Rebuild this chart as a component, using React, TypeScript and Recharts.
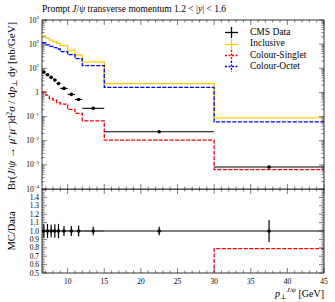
import React from 'react';
import { ComposedChart, Line, Scatter, ErrorBar, XAxis, YAxis, ReferenceArea } from 'recharts';

// bins in pT (GeV)
const binLow = [6.5, 7, 7.5, 8, 8.5, 9, 10, 11, 12, 15, 30];
const binHigh = [7, 7.5, 8, 8.5, 9, 10, 11, 12, 15, 30, 45];

// nb/GeV
const cmsData = [6.95, 5.37, 4.19, 3.24, 2.36, 1.47, 0.83, 0.51, 0.22, 0.0235, 0.00081];
const cmsRelErr = [0.08, 0.085, 0.075, 0.08, 0.085, 0.06, 0.06, 0.065, 0.05, 0.05, 0.13];
const inclusive = [217, 179, 148, 126, 108, 86, 57, 35, 18.6, 2.3, 0.088];
const colourSinglet = [1.06, 0.77, 0.56, 0.48, 0.38, 0.33, 0.2, 0.135, 0.066, 0.0105, 0.00064];
const colourOctet = [114, 94, 81, 72, 63, 49, 37, 25, 13, 1.61, 0.06];

const logMajorTicks = [1e-4, 1e-3, 1e-2, 1e-1, 1, 10, 100, 1000];
const xMajorTicks = [10, 15, 20, 25, 30, 35, 40, 45];
const ratioMajorTicks = ['0.5', '0.6', '0.7', '0.8', '0.9', '1.0', '1.1', '1.2', '1.3', '1.4'];

const X_MIN = 6.5;
const X_MAX = 45;
const PLOT_W = 282;
const MAIN_H = 169;
const RATIO_H = 84;
const FONT = '"Liberation Serif", "DejaVu Serif", serif';
const TICK = '#222';

const INC_COLOR = '#ffcc00';
const CS_COLOR = '#ff0000';
const CO_COLOR = '#0000ff';

// tick value lists (majors + minors)
const logTicks: number[] = [];
for (let e = -4; e <= 3; e++) {
  for (let m = 1; m <= 9; m++) {
    const v = m * Math.pow(10, e);
    if (v <= 1000.0001) logTicks.push(v);
  }
}
const xTicks: number[] = [];
for (let v = 7; v <= 45; v++) xTicks.push(v);
const ratioTicks: number[] = [];
for (let k = 25; k <= 75; k++) ratioTicks.push(k / 50);

const n = binLow.length;
const histRows = binLow
  .map((lo, i) => ({ x: lo, inc: inclusive[i], cs: colourSinglet[i], co: colourOctet[i] }))
  .concat([{ x: X_MAX, inc: inclusive[n - 1], cs: colourSinglet[n - 1], co: colourOctet[n - 1] }]);

const dataRows = binLow.map((lo, i) => ({
  x: (lo + binHigh[i]) / 2,
  y: cmsData[i],
  xErr: (binHigh[i] - lo) / 2,
  yErr: cmsData[i] * cmsRelErr[i],
}));

const ratioRows = binLow
  .map((lo, i) => ({
    x: lo,
    inc: inclusive[i] / cmsData[i],
    cs: colourSinglet[i] / cmsData[i],
    co: colourOctet[i] / cmsData[i],
  }))
  .concat([
    {
      x: X_MAX,
      inc: inclusive[n - 1] / cmsData[n - 1],
      cs: colourSinglet[n - 1] / cmsData[n - 1],
      co: colourOctet[n - 1] / cmsData[n - 1],
    },
  ]);

const ratioDataRows = binLow.map((lo, i) => ({
  x: (lo + binHigh[i]) / 2,
  y: 1,
  xErr: (binHigh[i] - lo) / 2,
  yErr: cmsRelErr[i],
}));

const expLabel = (v: number) => {
  const e = Math.round(Math.log10(v));
  if (e === 0) return '1';
  return (
    <>
      10
      <tspan dy={-3.5} fontSize={5}>
        {e < 0 ? '\u2212' + -e : e}
      </tspan>
    </>
  );
};

const MainYTick = (props: any) => {
  const { x, y, payload } = props;
  const v = payload.value;
  const major = logMajorTicks.some((m) => Math.abs(m - v) / m < 1e-6);
  const len = major ? 5 : 2.5;
  return (
    <g>
      <line x1={x} x2={x + len} y1={y} y2={y} stroke={TICK} strokeWidth={0.6} />
      <line x1={x + PLOT_W} x2={x + PLOT_W - len} y1={y} y2={y} stroke={TICK} strokeWidth={0.6} />
      {major && (
        <text x={x - 3} y={y + 2.5} textAnchor="end" fontSize={7.5} fontFamily={FONT} fill="#000">
          {expLabel(v)}
        </text>
      )}
    </g>
  );
};

const makeXTick = (plotH: number, labels: boolean) => (props: any) => {
  const { x, y, payload } = props;
  const v = payload.value;
  const major = xMajorTicks.includes(v);
  const len = major ? 5 : 2.5;
  return (
    <g>
      <line x1={x} x2={x} y1={y} y2={y - len} stroke={TICK} strokeWidth={0.6} />
      <line x1={x} x2={x} y1={y - plotH} y2={y - plotH + len} stroke={TICK} strokeWidth={0.6} />
      {labels && major && (
        <text x={x} y={y + 11} textAnchor="middle" fontSize={7.5} fontFamily={FONT} fill="#000">
          {v}
        </text>
      )}
    </g>
  );
};

const MainXTick = makeXTick(MAIN_H, false);
const RatioXTick = makeXTick(RATIO_H, true);

const RatioYTick = (props: any) => {
  const { x, y, payload } = props;
  const v = payload.value;
  const label = v.toFixed(1);
  const major = Math.abs(v * 10 - Math.round(v * 10)) < 1e-6;
  const len = major ? 5 : 2.5;
  return (
    <g>
      <line x1={x} x2={x + len} y1={y} y2={y} stroke={TICK} strokeWidth={0.6} />
      <line x1={x + PLOT_W} x2={x + PLOT_W - len} y1={y} y2={y} stroke={TICK} strokeWidth={0.6} />
      {major && ratioMajorTicks.includes(label) && (
        <text x={x - 3} y={y + 2.5} textAnchor="end" fontSize={7.5} fontFamily={FONT} fill="#000">
          {label}
        </text>
      )}
    </g>
  );
};

const DataDot = (props: any) => {
  const { cx, cy } = props;
  return <circle cx={cx} cy={cy} r={1.8} fill="#000" />;
};

const legendItems = [
  { name: 'CMS Data', color: '#000', dash: undefined as string | undefined },
  { name: 'Inclusive', color: INC_COLOR, dash: undefined },
  { name: 'Colour-Singlet', color: CS_COLOR, dash: '2 1.5' },
  { name: 'Colour-Octet', color: CO_COLOR, dash: '2 1.5' },
];

const App = () => {
  return (
    <div style={{ position: 'absolute', left: 0, top: 0, width: 335, height: 302, background: '#fff' }}>
      <div style={{ position: 'absolute', left: 0, top: 189 }}>
        <ComposedChart width={335} height={113} data={ratioRows} margin={{ top: 0, right: 11, bottom: 28, left: 41 }}>
          <XAxis
            dataKey="x"
            type="number"
            domain={[X_MIN, X_MAX]}
            allowDataOverflow
            ticks={xTicks}
            interval={0}
            tick={RatioXTick}
            tickLine={false}
            axisLine={false}
            tickSize={0}
            tickMargin={0}
            height={1}
          />
          <YAxis
            type="number"
            domain={[0.5, 1.5]}
            allowDataOverflow
            ticks={ratioTicks}
            interval={0}
            tick={RatioYTick}
            tickLine={false}
            axisLine={false}
            tickSize={0}
            tickMargin={0}
            width={1}
          />
          <Line type="stepAfter" dataKey="inc" stroke={INC_COLOR} strokeWidth={1.3} dot={false} isAnimationActive={false} />
          <Line
            type="stepAfter"
            dataKey="co"
            stroke={CO_COLOR}
            strokeWidth={1.3}
            strokeDasharray="4 1.5"
            dot={false}
            isAnimationActive={false}
          />
          <Line
            type="stepAfter"
            dataKey="cs"
            stroke={CS_COLOR}
            strokeWidth={1.3}
            strokeDasharray="4 1.5"
            dot={false}
            isAnimationActive={false}
          />
          <Scatter data={ratioDataRows} dataKey="y" shape={DataDot} isAnimationActive={false}>
            <ErrorBar dataKey="xErr" direction="x" width={0} stroke="#000" strokeWidth={1.2} />
            <ErrorBar dataKey="yErr" direction="y" width={0} stroke="#000" strokeWidth={1.2} />
          </Scatter>
          <ReferenceArea x1={X_MIN} x2={X_MAX} y1={0.5} y2={1.5} fill="none" stroke="#000" strokeWidth={0.8} />
        </ComposedChart>
      </div>
      <div style={{ position: 'absolute', left: 0, top: 0 }}>
        <ComposedChart width={335} height={196} data={histRows} margin={{ top: 20, right: 11, bottom: 6, left: 41 }}>
          <XAxis
            dataKey="x"
            type="number"
            domain={[X_MIN, X_MAX]}
            allowDataOverflow
            ticks={xTicks}
            interval={0}
            tick={MainXTick}
            tickLine={false}
            axisLine={false}
            tickSize={0}
            tickMargin={0}
            height={1}
          />
          <YAxis
            type="number"
            scale="log"
            domain={[1e-4, 1e3]}
            allowDataOverflow
            ticks={logTicks}
            interval={0}
            tick={MainYTick}
            tickLine={false}
            axisLine={false}
            tickSize={0}
            tickMargin={0}
            width={1}
          />
          <Line type="stepAfter" dataKey="inc" stroke={INC_COLOR} strokeWidth={1.3} dot={false} isAnimationActive={false} />
          <Line
            type="stepAfter"
            dataKey="co"
            stroke={CO_COLOR}
            strokeWidth={1.3}
            strokeDasharray="4 1.5"
            dot={false}
            isAnimationActive={false}
          />
          <Line
            type="stepAfter"
            dataKey="cs"
            stroke={CS_COLOR}
            strokeWidth={1.3}
            strokeDasharray="4 1.5"
            dot={false}
            isAnimationActive={false}
          />
          <Scatter data={dataRows} dataKey="y" shape={DataDot} isAnimationActive={false}>
            <ErrorBar dataKey="xErr" direction="x" width={0} stroke="#000" strokeWidth={1.1} />
            <ErrorBar dataKey="yErr" direction="y" width={0} stroke="#000" strokeWidth={1.1} />
          </Scatter>
          <ReferenceArea x1={X_MIN} x2={X_MAX} y1={1e-4} y2={1e3} fill="none" stroke="#000" strokeWidth={0.8} />
        </ComposedChart>
      </div>

      {/* titles and axis labels */}
      <svg width={335} height={302} style={{ position: 'absolute', left: 0, top: 0, pointerEvents: 'none' }}>
        <text x={42} y={12} fontSize={9.5} fontFamily={FONT} fill="#000">
          Prompt <tspan fontStyle="italic">J</tspan>/<tspan fontStyle="italic">ψ</tspan> transverse momentum 1.2 &lt; |
          <tspan fontStyle="italic">y</tspan>| &lt; 1.6
        </text>
        <text
          transform="translate(15,106) rotate(-90)"
          textAnchor="middle"
          fontSize={11}
          fontFamily={FONT}
          fill="#000"
        >
          Br(<tspan fontStyle="italic">J</tspan>/<tspan fontStyle="italic">ψ</tspan> → <tspan fontStyle="italic">μ</tspan>
          <tspan dy={-3.5} fontSize={7.5}>+</tspan>
          <tspan dy={3.5} fontStyle="italic">μ</tspan>
          <tspan dy={-3.5} fontSize={7.5}>−</tspan>
          <tspan dy={3.5}>)d</tspan>
          <tspan dy={-3.5} fontSize={7.5}>2</tspan>
          <tspan dy={3.5} fontStyle="italic">σ</tspan> / d<tspan fontStyle="italic">p</tspan>
          <tspan dy={2} fontSize={7.5}>⊥</tspan>
          <tspan dy={-2}> d</tspan>
          <tspan fontStyle="italic">y</tspan> [nb/GeV]
        </text>
        <text transform="translate(15,231) rotate(-90)" textAnchor="middle" fontSize={10.5} fontFamily={FONT} fill="#000">
          MC/Data
        </text>
        <text x={324} y={297} textAnchor="end" fontSize={10} fontFamily={FONT} fill="#000">
          <tspan fontStyle="italic">p</tspan>
          <tspan dy={2} fontSize={7}>⊥</tspan>
          <tspan dy={-7} fontSize={7} fontStyle="italic">J</tspan>
          <tspan fontSize={7}>/</tspan>
          <tspan fontSize={7} fontStyle="italic">ψ</tspan>
          <tspan dy={5}> [GeV]</tspan>
        </text>
      </svg>

      {/* legend */}
      <div style={{ position: 'absolute', left: 224, top: 27, fontFamily: FONT, fontSize: 9.5, lineHeight: '11.4px' }}>
        {legendItems.map((item) => (
          <div key={item.name} style={{ display: 'flex', alignItems: 'center', height: 11.4 }}>
            <svg width={16} height={11} style={{ marginRight: 10 }}>
              <line x1={1} x2={14} y1={5.5} y2={5.5} stroke={item.color} strokeWidth={1.3} strokeDasharray={item.dash} />
              <line x1={7.5} x2={7.5} y1={0} y2={11} stroke={item.color} strokeWidth={1.3} strokeDasharray={item.dash} />
            </svg>
            <span>{item.name}</span>
          </div>
        ))}
      </div>
    </div>
  );
};

export default App;
